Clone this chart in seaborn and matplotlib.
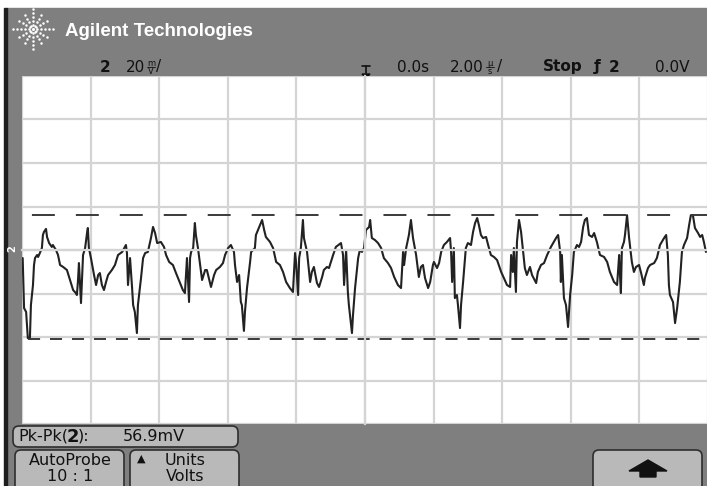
import math
import matplotlib
matplotlib.use("Agg")
import matplotlib.pyplot as plt
import seaborn as sns
from matplotlib.patches import FancyBboxPatch, Rectangle, Polygon
from matplotlib.ticker import MultipleLocator

# scope settings (channel 2)
mv_per_div = 20
us_per_div = 2.0
probe_ratio = "10 : 1"

# captured trace: time (us) and channel 2 voltage (mV)
t_us = [
    -9.98, -9.94, -9.88, -9.83, -9.77, -9.74, -9.68, -9.65, -9.62, -9.56, -9.53, -9.48,
    -9.42, -9.39, -9.36, -9.30, -9.27, -9.21, -9.13, -9.10, -9.01, -8.95, -8.89, -8.80,
    -8.69, -8.60, -8.51, -8.43, -8.40, -8.37, -8.34, -8.28, -8.25, -8.22, -8.16, -8.10,
    -8.08, -8.05, -7.99, -7.90, -7.84, -7.78, -7.73, -7.67, -7.61, -7.55, -7.49, -7.38,
    -7.29, -7.20, -7.08, -6.97, -6.94, -6.91, -6.85, -6.79, -6.76, -6.71, -6.65, -6.62,
    -6.53, -6.47, -6.41, -6.33, -6.24, -6.18, -6.12, -6.06,
    -5.95, -5.86, -5.80, -5.71, -5.60, -5.51, -5.39, -5.31, -5.25, -5.22, -5.19, -5.13,
    -5.10, -5.07, -5.01, -4.96, -4.93, -4.87, -4.78, -4.75, -4.66, -4.61, -4.52, -4.49,
    -4.40, -4.34, -4.23, -4.14, -4.08, -3.99, -3.91, -3.82, -3.79, -3.73, -3.67, -3.62,
    -3.59, -3.53, -3.50, -3.44, -3.35, -3.32, -3.21, -3.18, -3.06, -3.00, -2.94, -2.89,
    -2.77, -2.68, -2.59, -2.48, -2.39, -2.30, -2.19, -2.10, -2.04, -2.01,
    -1.95, -1.92, -1.87, -1.81, -1.78, -1.69, -1.63, -1.60, -1.55, -1.49, -1.40, -1.34,
    -1.25, -1.20, -1.11, -1.05, -0.93, -0.85, -0.70, -0.64, -0.61, -0.55, -0.50, -0.47,
    -0.38, -0.35, -0.29, -0.20, -0.15, -0.09, -0.03, 0.03, 0.12, 0.15, 0.20, 0.29,
    0.38, 0.47, 0.55, 0.67, 0.76, 0.85, 0.96, 1.05, 1.11, 1.14, 1.20, 1.28,
    1.34, 1.40, 1.49, 1.57, 1.63, 1.69, 1.75, 1.84, 1.90, 1.98,
    2.01, 2.10, 2.16, 2.22, 2.30, 2.39, 2.48, 2.51, 2.54, 2.59, 2.62, 2.68,
    2.71, 2.77, 2.80, 2.86, 2.94, 3.00, 3.09, 3.15, 3.21, 3.27, 3.32, 3.38,
    3.44, 3.53, 3.59, 3.67, 3.76, 3.85, 3.97, 4.05, 4.14, 4.23, 4.26, 4.31,
    4.34, 4.40, 4.43, 4.49, 4.55, 4.58, 4.66, 4.72, 4.81, 4.87, 4.99, 5.04,
    5.13, 5.22, 5.31, 5.42, 5.57, 5.63, 5.69, 5.71, 5.74, 5.80, 5.86, 5.92,
    5.98, 6.04, 6.09, 6.18, 6.24, 6.30, 6.36, 6.41, 6.47, 6.53, 6.62, 6.68,
    6.76, 6.85, 6.97, 7.06, 7.14, 7.26, 7.35, 7.41, 7.43, 7.46, 7.49, 7.55,
    7.58, 7.64, 7.70, 7.78, 7.84, 7.90, 7.99, 8.05, 8.13, 8.16, 8.25, 8.31,
    8.43, 8.51, 8.60, 8.72, 8.78, 8.83, 8.86, 8.89, 8.98, 9.04, 9.10, 9.18,
    9.24, 9.30, 9.39, 9.45, 9.50, 9.56, 9.62, 9.71, 9.77, 9.83, 9.88, 9.94,
]
v_mv = [
    -3.7, -26.7, -28.5, -40.5, -40.9, -25.3, -16.1, -6.9, -3.7, -2.3, -3.2, -1.4,
    0.9, 6.9, 8.3, 9.7, 6.0, 3.2, 1.4, 2.3, 0.0, -2.3, -6.9, -7.8,
    -9.2, -13.8, -18.4, -19.8, -20.7, -14.7, -6.0, -24.4, -12.9, -2.3, 0.9, 8.3,
    10.1, 0.9, -3.7, -11.5, -16.1, -11.5, -10.6, -16.1, -18.4, -14.7, -11.5, -9.2,
    -6.9, -2.3, -0.9, 2.3, -1.4, -16.1, -3.7, -17.5, -25.3, -28.5, -38.2, -25.3,
    -12.9, -3.7, -1.4, -0.9, 5.5, 10.6, 7.8, 3.2,
    3.7, 1.4, -2.3, -5.5, -6.9, -10.6, -15.2, -18.4, -19.8, -11.5, -3.7, -23.9,
    -3.7, -0.9, 0.9, 12.4, 6.9, 0.9, -10.1, -13.8, -9.2, -9.2, -15.2, -17.0,
    -11.5, -9.2, -7.8, -6.0, -2.3, 0.9, 2.3, -0.9, -6.9, -14.7, -11.5, -23.9,
    -25.3, -37.2, -28.5, -17.5, -5.5, -0.9, 0.9, 6.9, 11.5, 13.8, 9.2, 6.0,
    3.7, 0.9, -5.5, -6.9, -10.1, -14.7, -17.5, -19.3, -1.4, -5.5,
    -20.7, -3.7, 0.9, 13.8, 5.5, -0.9, -10.1, -14.7, -10.1, -7.8, -15.2, -17.0,
    -12.4, -9.2, -7.8, -8.3, -2.3, 1.4, 3.2, -2.3, -16.1, 0.0, -19.3, -25.3,
    -38.2, -29.9, -17.5, -3.7, 0.0, -0.9, 0.9, 9.2, 10.6, 13.8, 5.5, 4.6,
    3.2, 0.9, -3.7, -6.0, -8.3, -12.4, -16.1, -17.5, -0.9, -6.9, 0.9, 6.9,
    13.8, 5.5, -2.3, -12.4, -7.8, -6.9, -12.9, -17.5, -14.7, -6.9,
    -5.5, -8.3, -6.0, -0.9, 2.3, 3.7, 5.5, -0.9, -14.7, 0.9, -22.1, -20.7,
    -25.3, -35.9, -25.3, -14.7, 0.9, 3.2, 2.3, 8.3, 12.4, 14.7, 11.5, 6.9,
    5.5, 6.0, 2.3, -2.3, -3.2, -4.6, -10.1, -12.9, -16.1, -17.0, -2.3, -10.1,
    0.9, -19.3, 3.7, 13.8, 8.3, 3.7, -8.3, -11.5, -7.8, -11.5, -15.2, -10.1,
    -6.9, -6.0, -2.3, 1.4, 5.5, 6.9, -0.9, -14.7, -2.3, -22.1, -25.3, -35.4,
    -20.7, -11.5, -0.9, 2.3, 1.4, 3.7, 10.6, 13.8, 14.7, 6.9, 6.0, 7.8,
    3.7, -2.3, -3.2, -5.5, -10.1, -14.7, -16.1, -2.3, -10.1, -19.8, 0.9, 3.7,
    6.9, 16.0, 5.5, -5.5, -10.1, -7.8, -6.9, -10.6, -16.1, -12.9, -8.3, -6.9,
    -6.0, -3.7, 2.3, 5.5, 6.9, -2.3, -16.1, -20.7, -23.9, -33.6, -26.7, -14.7,
    -0.9, 2.3, 5.5, 11.5, 16.0, 16.0, 10.1, 7.8, 6.0, 6.9, 3.7, -0.9,
]

cursor_hi = max(v_mv)
cursor_lo = min(v_mv)
pk_pk = cursor_hi - cursor_lo

sns.set_style("white")
plt.rcParams['font.family'] = ['DejaVu Sans']

W, H = 707, 486
fig = plt.figure(figsize=(W / 100, H / 100), dpi=100)
fig.patch.set_facecolor('white')

# instrument frame, drawn in screen pixels
ov = fig.add_axes([0, 0, 1, 1], zorder=0)
ov.set_xlim(0, W)
ov.set_ylim(H, 0)
ov.axis('off')
ov.add_patch(Rectangle((7, 8), W - 7, H - 8, color='#7f7f7f'))
ov.add_patch(Rectangle((4, 8), 3, H - 8, color='#1e1e1e'))

# graticule
ax = fig.add_axes([22 / W, (H - 424) / H, 686 / W, 348 / H], zorder=1)
ax.set_facecolor('white')
ax.set_xlim(-5 * us_per_div, 5 * us_per_div)
ax.set_ylim(-4 * mv_per_div, 4 * mv_per_div)
ax.xaxis.set_major_locator(MultipleLocator(us_per_div))
ax.yaxis.set_major_locator(MultipleLocator(mv_per_div))
ax.xaxis.set_minor_locator(MultipleLocator(us_per_div / 5))
ax.yaxis.set_minor_locator(MultipleLocator(mv_per_div / 5))
ax.grid(True, which='major', color='#d4d4d4', lw=1.6)
for s in ['top', 'right']:
    ax.spines[s].set_visible(False)
ax.spines['left'].set_position(('data', 0))
ax.spines['bottom'].set_position(('data', 0))
for s in ['left', 'bottom']:
    ax.spines[s].set_color('#d4d4d4')
    ax.spines[s].set_linewidth(1.6)
ax.tick_params(which='both', direction='inout', length=6, width=1, color='#bcbcbc',
               labelbottom=False, labelleft=False)

sns.lineplot(x=t_us, y=v_mv, sort=False, estimator=None, color='#222222',
             linewidth=1.5, ax=ax)
ax.set_xlabel('')
ax.set_ylabel('')

# measurement cursors
ax.axhline(cursor_hi, color='#3a3a3a', lw=1.4, linestyle=(17.5, (11.8, 10.8)))
ax.axhline(cursor_lo, color='#3a3a3a', lw=1.4, linestyle=(8.2, (6.2, 5.1)))

# header: logo + brand
cx, cy = 33, 29
for k in range(12):
    ang = math.radians(k * 30)
    reach = 20 if k % 3 == 0 else 16
    for r in range(4, reach + 1, 4):
        ov.plot(cx + r * math.cos(ang), cy - r * math.sin(ang),
                'o', ms=1.8, color='white', mec='none')
ov.plot(cx, cy, 'o', ms=2.2, color='white', mec='none')
ov.text(65, 31, "Agilent Technologies", color='white', fontsize=13.5, fontweight='bold',
        family='Liberation Sans', va='center', ha='left')

txt = dict(color='#111111', va='center', fontsize=11)
ov.text(100, 67, "2", fontweight='bold', **txt)
ov.text(126, 67, "20", **txt)
ov.text(151, 63, "m", color='#111111', fontsize=6, ha='center', va='center')
ov.text(151, 71, "V", color='#111111', fontsize=6, ha='center', va='center')
ov.plot([147, 155], [67, 67], color='#111111', lw=0.6)
ov.text(156, 67, "/", **txt)

# trigger position marker
ov.plot([362, 370], [66, 66], color='#111111', lw=1.2)
ov.plot([366, 366], [66, 73], color='#111111', lw=1.2)
ov.add_patch(Polygon([[362, 74], [370, 74], [366, 78]], color='#111111'))

ov.text(397, 67, "0.0s", **txt)
ov.text(450, 67, "2.00", **txt)
ov.text(490, 63, "µ", color='#111111', fontsize=6, ha='center', va='center')
ov.text(490, 71, "s", color='#111111', fontsize=6, ha='center', va='center')
ov.plot([486, 494], [67, 67], color='#111111', lw=0.6)
ov.text(497, 67, "/", **txt)
ov.text(543, 67, "Stop", fontweight='bold', **txt)
ov.text(594, 67, "ƒ", fontweight='bold', **txt)
ov.text(609, 67, "2", fontweight='bold', **txt)
ov.text(655, 67, "0.0V", **txt)

# channel 2 ground marker
ov.text(12, 249, "2", color='white', fontsize=7, fontweight='bold', rotation=90,
        ha='center', va='center')

# softkeys / measurement bar
def key(x0, y0, x1, y1):
    ov.add_patch(FancyBboxPatch((x0, y0), x1 - x0, y1 - y0,
                                boxstyle="round,pad=0,rounding_size=6",
                                facecolor='#b9b9b9', edgecolor='#2e2e2e', lw=1.2))

key(13, 426, 238, 447)
key(15, 450, 124, 500)
key(130, 450, 239, 500)
key(593, 450, 702, 500)

box = dict(color='#111111', va='center', fontsize=11.5)
ov.text(18, 436, "Pk-Pk(", **box)
ov.text(67, 436.5, "2", fontweight='bold', fontsize=13, color='#111111', va='center')
ov.text(78, 436, "):", **box)
ov.text(123, 436, f"{pk_pk:.1f}mV", **box)
ov.text(70, 460, "AutoProbe", ha='center', **box)
ov.text(70, 476, probe_ratio, ha='center', **box)
ov.text(141, 459, "▲", ha='center', color='#111111', va='center', fontsize=8)
ov.text(185, 460, "Units", ha='center', **box)
ov.text(185, 476, "Volts", ha='center', **box)
ov.add_patch(Polygon([[648, 460], [667, 471], [656, 471], [656, 477],
                      [640, 477], [640, 471], [629, 471]], color='#111111'))

fig.savefig("out.png", dpi=100)
